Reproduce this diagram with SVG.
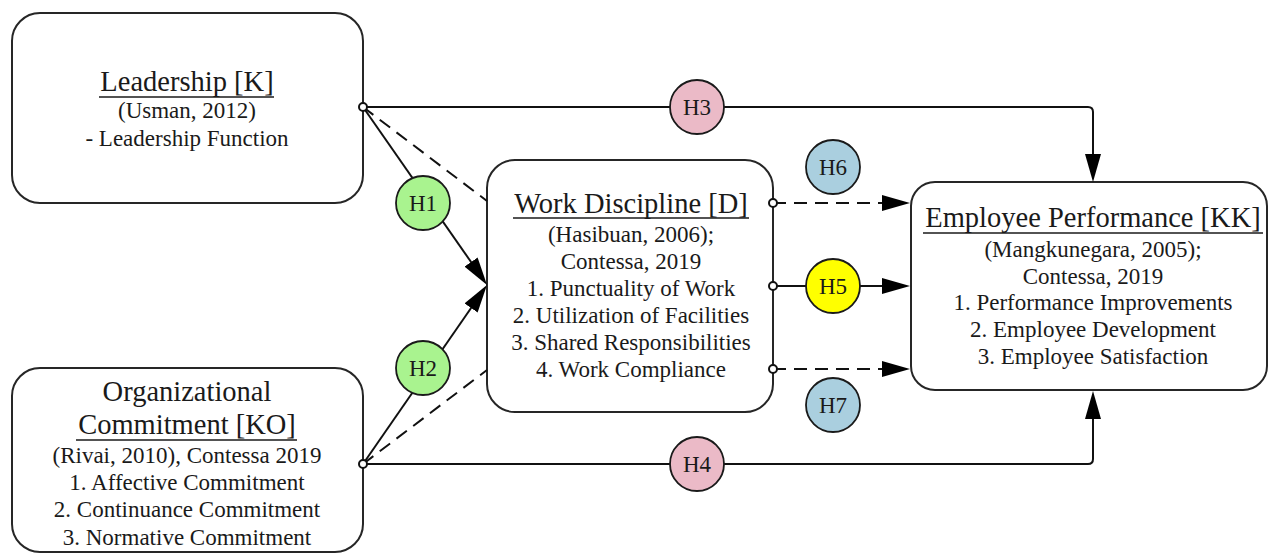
<svg xmlns="http://www.w3.org/2000/svg" width="1269" height="554" viewBox="0 0 1269 554">
  <style>
    .box { fill: #ffffff; stroke: #262626; stroke-width: 2; }
    .title { font-family: "Liberation Serif", "Times New Roman", serif; font-size: 28.5px; fill: #1a1a1a; text-anchor: middle; }
    .body { font-family: "Liberation Serif", "Times New Roman", serif; font-size: 23px; fill: #1a1a1a; text-anchor: middle; }
    .uline { stroke: #1a1a1a; stroke-width: 1.5; }
    .edge { fill: none; stroke: #111111; stroke-width: 2; }
    .dash { stroke-dasharray: 13 8; }
    .port { fill: #ffffff; stroke: #111111; stroke-width: 2; }
    .hyp { stroke: #1a1a1a; stroke-width: 1.8; }
    .hyp-text { font-family: "Liberation Serif", "Times New Roman", serif; font-size: 23px; fill: #1a1a1a; text-anchor: middle; }
    .green { fill: #a9f38f; }
    .pink { fill: #ebbac7; }
    .blue { fill: #aacfdf; }
    .yellow { fill: #ffff00; }
  </style>
  <defs>
    <marker id="arrow" viewBox="0 0 28 16" refX="1" refY="8" markerWidth="28" markerHeight="16" markerUnits="userSpaceOnUse" orient="auto">
      <path d="M0,0 L28,8 L0,16 Z" fill="#000000"/>
    </marker>
  </defs>

  <rect width="1269" height="554" fill="#ffffff"/>

  <!-- Leadership -->
  <g id="node-leadership">
    <rect class="box" x="12" y="13" width="351" height="190" rx="28" ry="28"/>
    <text class="title" x="187" y="91">Leadership [K]</text>
    <line class="uline" x1="99" y1="97" x2="274" y2="97"/>
    <text class="body" x="187" y="118">(Usman, 2012)</text>
    <text class="body" x="187" y="146">- Leadership Function</text>
  </g>

  <!-- Organizational Commitment -->
  <g id="node-commitment">
    <rect class="box" x="12" y="368" width="351" height="184" rx="28" ry="28"/>
    <text class="title" x="187" y="401">Organizational</text>
    <text class="title" x="187" y="434">Commitment [KO]</text>
    <line class="uline" x1="76" y1="440" x2="297" y2="440"/>
    <text class="body" x="187" y="463">(Rivai, 2010), Contessa 2019</text>
    <text class="body" x="187" y="490">1. Affective Commitment</text>
    <text class="body" x="187" y="517">2. Continuance Commitment</text>
    <text class="body" x="187" y="545">3. Normative Commitment</text>
  </g>

  <!-- Work Discipline -->
  <g id="node-discipline">
    <rect class="box" x="487" y="160" width="286" height="252" rx="28" ry="28"/>
    <text class="title" x="631" y="213">Work Discipline [D]</text>
    <line class="uline" x1="513" y1="218" x2="749" y2="218"/>
    <text class="body" x="631" y="242">(Hasibuan, 2006);</text>
    <text class="body" x="631" y="269">Contessa, 2019</text>
    <text class="body" x="631" y="296">1. Punctuality of Work</text>
    <text class="body" x="631" y="323">2. Utilization of Facilities</text>
    <text class="body" x="631" y="350">3. Shared Responsibilities</text>
    <text class="body" x="631" y="377">4. Work Compliance</text>
  </g>

  <!-- Employee Performance -->
  <g id="node-performance">
    <rect class="box" x="911" y="182" width="356" height="208" rx="24" ry="24"/>
    <text class="title" x="1093" y="227">Employee Performance [KK]</text>
    <line class="uline" x1="923" y1="233" x2="1263" y2="233"/>
    <text class="body" x="1093" y="257">(Mangkunegara, 2005);</text>
    <text class="body" x="1093" y="284">Contessa, 2019</text>
    <text class="body" x="1093" y="310">1. Performance Improvements</text>
    <text class="body" x="1093" y="337">2. Employee Development</text>
    <text class="body" x="1093" y="364">3. Employee Satisfaction</text>
  </g>

  <!-- Connectors -->
  <g id="connectors">
    <path class="edge" d="M363,107 H1088 Q1093,107 1093,112 V155" marker-end="url(#arrow)"/>
    <path class="edge" d="M363,464 H1088 Q1093,464 1093,459 V418" marker-end="url(#arrow)"/>
    <path class="edge" d="M363,107 L471.6,262.8" marker-end="url(#arrow)"/>
    <path class="edge" d="M363,464 L471.6,307.2" marker-end="url(#arrow)"/>
    <path class="edge dash" d="M363,107 L487,201"/>
    <path class="edge dash" d="M363,464 L487,370"/>
    <path class="edge dash" d="M773,203 H883" marker-end="url(#arrow)"/>
    <path class="edge" d="M773,286 H883" marker-end="url(#arrow)"/>
    <path class="edge dash" d="M773,369 H883" marker-end="url(#arrow)"/>
    <circle class="port" cx="363" cy="107" r="4"/>
    <circle class="port" cx="363" cy="464" r="4"/>
    <circle class="port" cx="773" cy="203" r="4"/>
    <circle class="port" cx="773" cy="286" r="4"/>
    <circle class="port" cx="773" cy="369" r="4"/>
  </g>

  <!-- Hypothesis labels -->
  <g id="h1"><circle class="hyp green" cx="423" cy="203" r="27"/><text class="hyp-text" x="423" y="211">H1</text></g>
  <g id="h2"><circle class="hyp green" cx="423" cy="368" r="27"/><text class="hyp-text" x="423" y="376">H2</text></g>
  <g id="h3"><circle class="hyp pink" cx="697" cy="107" r="27"/><text class="hyp-text" x="697" y="115">H3</text></g>
  <g id="h4"><circle class="hyp pink" cx="697" cy="464" r="27"/><text class="hyp-text" x="697" y="472">H4</text></g>
  <g id="h5"><circle class="hyp yellow" cx="833" cy="286" r="27"/><text class="hyp-text" x="833" y="294">H5</text></g>
  <g id="h6"><circle class="hyp blue" cx="833" cy="167" r="27"/><text class="hyp-text" x="833" y="175">H6</text></g>
  <g id="h7"><circle class="hyp blue" cx="833" cy="405" r="27"/><text class="hyp-text" x="833" y="413">H7</text></g>
</svg>
